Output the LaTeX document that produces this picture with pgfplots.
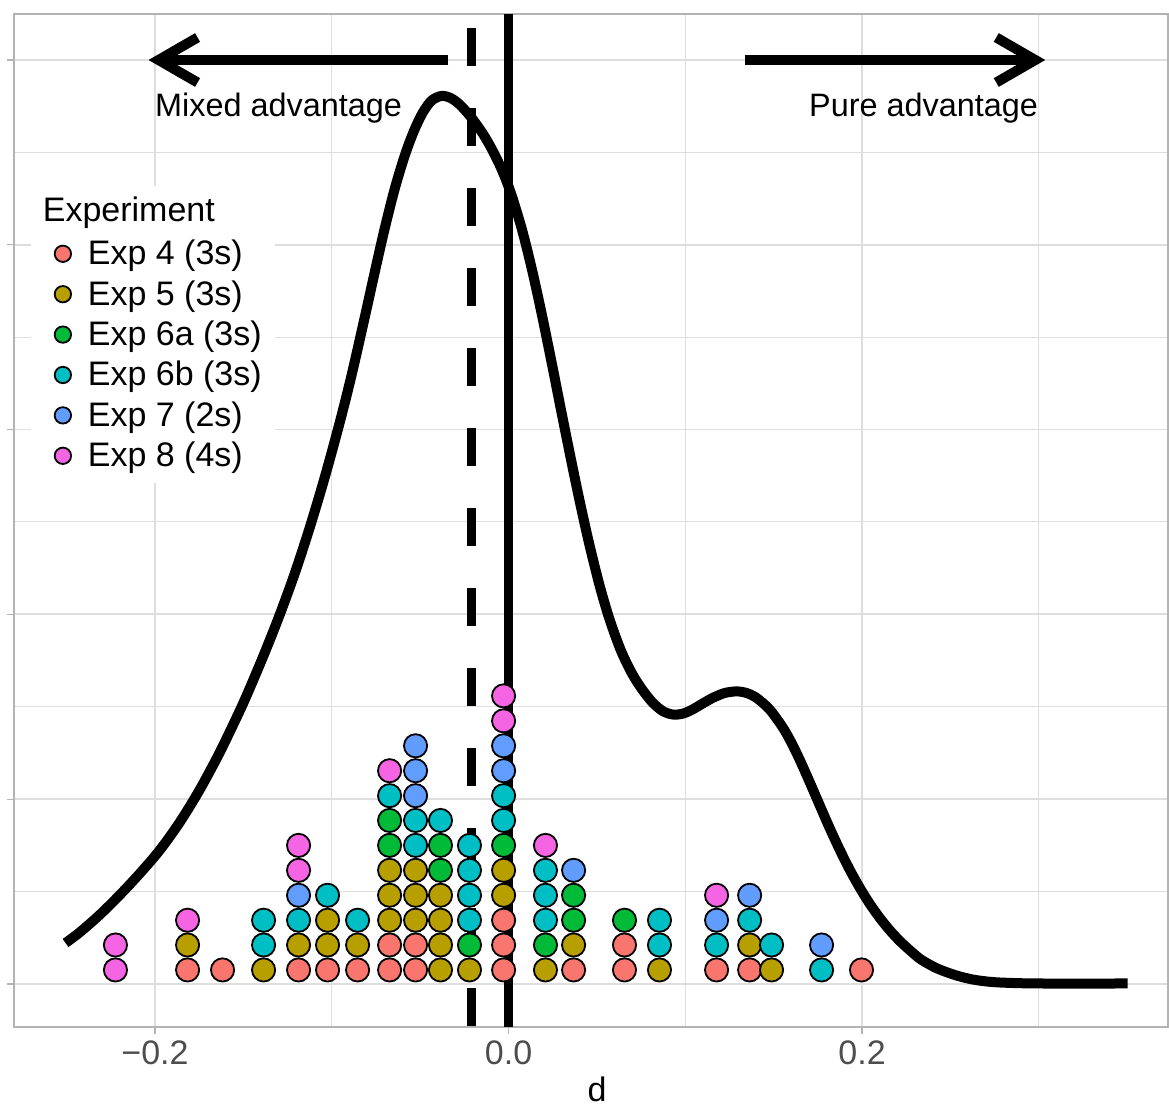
\documentclass[border=0pt]{standalone}
\usepackage{pgfplots}
\pgfplotsset{compat=1.18}
\usepackage{fontspec}
\setmainfont{Liberation Sans}
\definecolor{cA}{HTML}{F8766D}
\definecolor{cB}{HTML}{B79F00}
\definecolor{cC}{HTML}{00BA38}
\definecolor{cD}{HTML}{00BFC4}
\definecolor{cE}{HTML}{619CFF}
\definecolor{cF}{HTML}{F564E3}
\definecolor{gridc}{HTML}{DEDEDE}
\definecolor{bordc}{HTML}{B3B3B3}
\definecolor{tickc}{HTML}{4D4D4D}
\pgfplotsset{
  dotlegend/.style={legend image code/.code={\path (-10pt,0pt) (4.5pt,0pt);\draw[##1,mark size=4.1pt] plot coordinates {(0pt,0pt)};}},
  dots/.style={only marks, mark=*, mark size=5.8pt, mark options={fill=#1, draw=black, line width=0.9pt}, dotlegend},
}
\begin{document}
\begin{tikzpicture}
\begin{axis}[
  scale only axis, width=577pt, height=506.5pt,
  xmin=-0.2798, xmax=0.3731, ymin=-0.2327, ymax=5.249,
  xtick={-0.2,0,0.2}, xticklabels={−0.2,0.0,0.2},
  minor xtick={-0.1,0.1,0.3},
  ytick={0,1,2,3,4,5}, yticklabels={},
  minor ytick={0.5,1.5,2.5,3.5,4.5},
  grid=both,
  major grid style={color=gridc, line width=0.9pt},
  minor grid style={color=gridc, line width=0.5pt},
  axis line style={color=bordc, line width=0.7pt},
  tick style={color=bordc, line width=0.6pt},
  tick align=outside, major tick length=3.5pt, minor tick length=0pt,
  xtick pos=left, ytick pos=left,
  xticklabel style={font=\fontsize{17}{20}\selectfont, text=tickc},
  xlabel={d},
  xlabel style={font=\fontsize{17}{20}\selectfont, text=black, yshift=1pt, xshift=3pt},
  legend style={
    at={(0.0148,0.8302)}, anchor=north west,
    draw=none, fill=white,
    inner xsep=5.5pt, inner ysep=4.5pt,
    row sep=2.2pt,
    font=\fontsize{17}{20}\selectfont,
    nodes={inner sep=1pt, text height=13.5pt, text depth=2.5pt},
    /tikz/every odd column/.append style={column sep=6.8pt},
  },
  legend cell align=left,
]
\addlegendimage{empty legend}
\addlegendentry{\hspace*{-22.5pt}\raisebox{1.5pt}{Experiment}}

\addplot[dots=cA] coordinates {
(-0.1816,0.076) (-0.1618,0.076) (-0.1188,0.076) (-0.1024,0.076) (-0.0854,0.076)
(-0.0673,0.076) (-0.0673,0.211) (-0.0526,0.076) (-0.0526,0.211)
(-0.0028,0.076) (-0.0028,0.211) (-0.0028,0.345)
(0.0368,0.076) (0.0656,0.076) (0.0656,0.211) (0.1177,0.076) (0.1364,0.076) (0.1997,0.076)
};
\addlegendentry{Exp 4 (3s)}

\addplot[dots=cB] coordinates {
(-0.1816,0.211) (-0.1386,0.076) (-0.1188,0.211) (-0.1024,0.211) (-0.1024,0.345) (-0.0854,0.211)
(-0.0673,0.345) (-0.0673,0.480) (-0.0673,0.615)
(-0.0526,0.345) (-0.0526,0.480) (-0.0526,0.615)
(-0.0385,0.076) (-0.0385,0.211) (-0.0385,0.345) (-0.0385,0.480)
(-0.0221,0.076)
(-0.0028,0.480) (-0.0028,0.615)
(0.0209,0.076) (0.0368,0.211) (0.0854,0.076) (0.1364,0.211) (0.1488,0.076)
};
\addlegendentry{Exp 5 (3s)}

\addplot[dots=cC] coordinates {
(-0.0673,0.750) (-0.0673,0.885) (-0.0385,0.615) (-0.0385,0.750) (-0.0221,0.211)
(-0.0028,0.750) (0.0209,0.211) (0.0368,0.345) (0.0368,0.480) (0.0656,0.345)
};
\addlegendentry{Exp 6a (3s)}

\addplot[dots=cD] coordinates {
(-0.1386,0.211) (-0.1386,0.345) (-0.1188,0.345) (-0.1024,0.480) (-0.0854,0.345)
(-0.0673,1.019) (-0.0526,0.750) (-0.0526,0.885) (-0.0385,0.885)
(-0.0221,0.345) (-0.0221,0.480) (-0.0221,0.615) (-0.0221,0.750)
(-0.0028,0.885) (-0.0028,1.019) (0.0209,0.345) (0.0209,0.480) (0.0209,0.615)
(0.0854,0.211) (0.0854,0.345) (0.1177,0.211) (0.1364,0.345) (0.1488,0.211) (0.1771,0.076)
};
\addlegendentry{Exp 6b (3s)}

\addplot[dots=cE] coordinates {
(-0.1188,0.480) (-0.0526,1.019) (-0.0526,1.154) (-0.0526,1.289) (-0.0028,1.154)
(-0.0028,1.289) (0.0368,0.615) (0.1177,0.345) (0.1364,0.480) (0.1771,0.211)
};
\addlegendentry{Exp 7 (2s)}

\addplot[dots=cF] coordinates {
(-0.2224,0.076) (-0.2224,0.211) (-0.1816,0.345) (-0.1188,0.615) (-0.1188,0.750)
(-0.0673,1.154) (-0.0028,1.424) (-0.0028,1.559) (0.0209,0.750) (0.1177,0.480)
};
\addlegendentry{Exp 8 (4s)}

% reference lines
\addplot[forget plot, black, line width=4.3pt, dash pattern=on 19pt off 21pt, dash phase=33pt]
  coordinates {(-0.021,5.249) (-0.021,-0.2327)};
\addplot[forget plot, black, line width=4.3pt] coordinates {(0,5.249) (0,-0.2327)};

% density curve
\addplot[forget plot, black, line width=5pt, smooth] coordinates {
(-0.25064,0.2219) (-0.24271,0.2787) (-0.23140,0.3734) (-0.22008,0.4805) (-0.20877,0.5963)
(-0.19745,0.7229) (-0.18614,0.8734) (-0.17482,1.0498) (-0.16351,1.2511) (-0.15219,1.4762)
(-0.14653,1.5977) (-0.13805,1.7906) (-0.12956,1.9957) (-0.12107,2.2186) (-0.11259,2.4665)
(-0.10410,2.7381) (-0.09562,3.0346) (-0.08883,3.2938) (-0.08147,3.6028) (-0.07581,3.8474)
(-0.07016,4.0844) (-0.06450,4.2992) (-0.05884,4.4794) (-0.05375,4.6109) (-0.04866,4.7132)
(-0.04356,4.7803) (-0.03791,4.8057) (-0.03281,4.7944) (-0.02772,4.7595) (-0.02122,4.6910)
(-0.01471,4.6039) (-0.00990,4.5254) (-0.00509,4.4337) (-0.00141,4.3506) (0.00226,4.2527)
(0.00792,4.0714) (0.01358,3.8523) (0.01924,3.6044) (0.02489,3.3382) (0.03055,3.0649)
(0.03621,2.7971) (0.04102,2.5785) (0.04583,2.3739) (0.05148,2.1575) (0.05714,1.9735)
(0.06365,1.8025) (0.07016,1.6748) (0.07581,1.5909) (0.08147,1.5233) (0.08713,1.4773)
(0.09279,1.4583) (0.09844,1.4624) (0.10410,1.4854) (0.10976,1.5173) (0.11542,1.5476)
(0.12221,1.5744) (0.12900,1.5833) (0.13466,1.5747) (0.14031,1.5482) (0.14767,1.4859)
(0.15502,1.3902) (0.15983,1.3095) (0.16464,1.2154) (0.17030,1.0942) (0.17595,0.9692)
(0.18161,0.8452) (0.18727,0.7284) (0.19293,0.6201) (0.19859,0.5227) (0.20424,0.4356)
(0.20990,0.3593) (0.21556,0.2922) (0.22122,0.2338) (0.22687,0.1840) (0.23253,0.1380)
(0.23819,0.1050) (0.24385,0.0785) (0.25318,0.0465) (0.26252,0.0244) (0.27214,0.0119)
(0.28175,0.0065) (0.30042,0.0027) (0.35021,0.0027)
};

% arrows and annotations
\draw[line width=5pt] (axis cs:-0.034,5) -- (axis cs:-0.198,5);
\draw[line width=5pt, line join=miter] (axis cs:-0.198,5) ++(19.5pt,11.25pt) -- (axis cs:-0.198,5) -- ++(19.5pt,-11.25pt);
\draw[line width=5pt] (axis cs:0.1335,5) -- (axis cs:0.298,5);
\draw[line width=5pt, line join=miter] (axis cs:0.298,5) ++(-19.5pt,11.25pt) -- (axis cs:0.298,5) -- ++(-19.5pt,-11.25pt);
\node[anchor=base, font=\fontsize{16.2}{19}\selectfont, inner sep=0pt] at (axis cs:-0.1301,4.692) {Mixed advantage};
\node[anchor=base, font=\fontsize{16.2}{19}\selectfont, inner sep=0pt] at (axis cs:0.2348,4.692) {Pure advantage};
\end{axis}
\pgfresetboundingbox
\path (-7pt,-39.5pt) rectangle (577.5pt,513.5pt);
\end{tikzpicture}
\end{document}
